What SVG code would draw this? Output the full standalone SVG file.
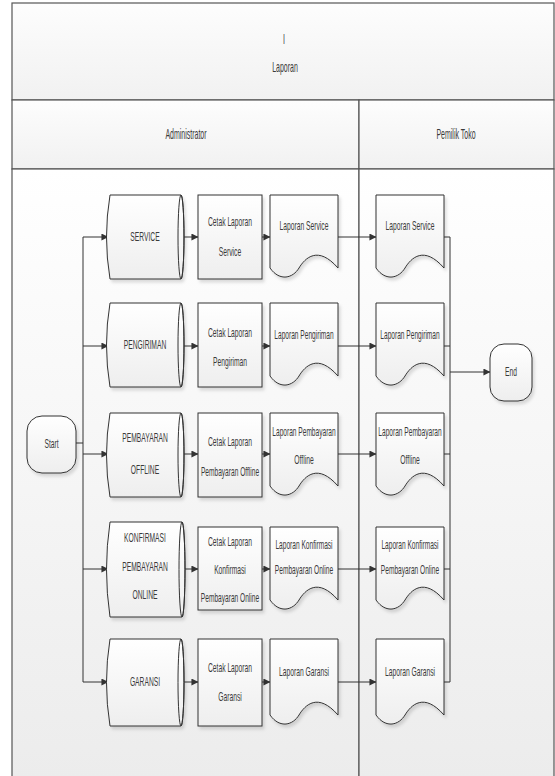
<svg xmlns="http://www.w3.org/2000/svg" width="555" height="776" viewBox="0 0 555 776">
<defs>
<linearGradient id="gBand" x1="0" y1="0" x2="0" y2="1"><stop offset="0" stop-color="#fdfdfd"/><stop offset="1" stop-color="#f1f1f1"/></linearGradient>
<linearGradient id="gBody" x1="0" y1="0" x2="0" y2="1"><stop offset="0" stop-color="#ffffff"/><stop offset="1" stop-color="#ececec"/></linearGradient>
<linearGradient id="gShape" x1="0" y1="0" x2="0" y2="1"><stop offset="0" stop-color="#ffffff"/><stop offset="1" stop-color="#eeeeee"/></linearGradient>
<filter id="sh" x="-20%" y="-20%" width="140%" height="140%"><feDropShadow dx="2" dy="3" stdDeviation="1.5" flood-color="#000" flood-opacity="0.13"/></filter>
<marker id="arr" viewBox="0 0 8 8" refX="7.5" refY="4" markerWidth="7" markerHeight="7" markerUnits="userSpaceOnUse" orient="auto"><path d="M0,0 L8,4 L0,8 Z" fill="#333"/></marker>
</defs>
<style>
.lane{stroke:#555;stroke-width:1.2}
.s{fill:url(#gShape);stroke:#333;stroke-width:1;filter:url(#sh)}
.c{fill:none;stroke:#333;stroke-width:1}
.a{marker-end:url(#arr)}
text{font-family:"Liberation Sans",Arial,sans-serif;font-size:12px;fill:#3a3a3a;text-anchor:middle}
.h{font-size:14px}
</style>
<g id="pool">
<rect x="12" y="3" width="542" height="97" fill="url(#gBand)" class="lane"/>
<rect x="12" y="100" width="347" height="69" fill="url(#gBand)" class="lane"/>
<rect x="359" y="100" width="195" height="69" fill="url(#gBand)" class="lane"/>
<rect x="12" y="169" width="347" height="610" fill="url(#gBody)" class="lane"/>
<rect x="359" y="169" width="195" height="610" fill="url(#gBody)" class="lane"/>
<text class="h" transform="translate(284,44) scale(0.5,1)">I</text>
<text class="h" transform="translate(285,72) scale(0.5,1)">Laporan</text>
<text class="h" transform="translate(186,139) scale(0.5,1)">Administrator</text>
<text class="h" transform="translate(456,139) scale(0.5,1)">Pemilik Toko</text>
</g>
<g id="connectors">
<path class="c" d="M76,443 H83"/>
<path class="c" d="M83,237 V682"/>
<path class="c a" d="M83,237 H108"/>
<path class="c a" d="M83,346 H108"/>
<path class="c a" d="M83,454 H108"/>
<path class="c a" d="M83,569 H108"/>
<path class="c a" d="M83,682 H108"/>
<path class="c a" d="M184,237 H198"/>
<path class="c a" d="M184,346 H198"/>
<path class="c a" d="M184,454 H198"/>
<path class="c a" d="M184,569 H198"/>
<path class="c a" d="M184,682 H198"/>
<path class="c a" d="M262,237 H270"/>
<path class="c a" d="M262,346 H270"/>
<path class="c a" d="M262,454 H270"/>
<path class="c a" d="M262,569 H270"/>
<path class="c a" d="M262,682 H270"/>
<path class="c a" d="M338,237 H376"/>
<path class="c a" d="M338,346 H376"/>
<path class="c a" d="M338,454 H376"/>
<path class="c a" d="M338,569 H376"/>
<path class="c a" d="M338,682 H376"/>
<path class="c" d="M444,237 H450 M444,346 H450 M444,454 H450 M444,569 H450 M444,682 H450 M450,237 V682"/>
<path class="c a" d="M450,372 H490"/>
</g>
<g id="start">
<rect class="s" x="27" y="416" width="49" height="57" rx="15"/>
<text transform="translate(51.5,448) scale(0.56,1)">Start</text>
</g>
<g id="end">
<rect class="s" x="490" y="344" width="42" height="57" rx="14"/>
<text transform="translate(511,376) scale(0.56,1)">End</text>
</g>
<g id="data-service">
<path class="s" d="M110,195 H181 A3,42 0 0 1 181,279 H110 Q103,237 110,195 Z"/>
<ellipse cx="181" cy="237" rx="3" ry="42" fill="none" stroke="#333"/>
<text transform="translate(145,241) scale(0.56,1)">SERVICE</text>
</g>
<g id="cetak-service">
<rect class="s" x="198" y="195" width="64" height="84"/>
<text transform="translate(230,226) scale(0.56,1)">Cetak Laporan</text>
<text transform="translate(230,256) scale(0.56,1)">Service</text>
</g>
<g id="doc-service-admin">
<path class="s" d="M270,195 H338 V268 C318,245 305,258 299,268 C293,278 280,282 270,268 Z"/>
<text transform="translate(304,230) scale(0.56,1)">Laporan Service</text>
</g>
<g id="doc-service-owner">
<path class="s" d="M376,195 H444 V268 C424,245 411,258 405,268 C399,278 386,282 376,268 Z"/>
<text transform="translate(410,230) scale(0.56,1)">Laporan Service</text>
</g>
<g id="data-pengiriman">
<path class="s" d="M110,303 H181 A3,42 0 0 1 181,387 H110 Q103,345 110,303 Z"/>
<ellipse cx="181" cy="345" rx="3" ry="42" fill="none" stroke="#333"/>
<text transform="translate(145,349) scale(0.56,1)">PENGIRIMAN</text>
</g>
<g id="cetak-pengiriman">
<rect class="s" x="198" y="303" width="64" height="84"/>
<text transform="translate(230,337) scale(0.56,1)">Cetak Laporan</text>
<text transform="translate(230,366) scale(0.56,1)">Pengiriman</text>
</g>
<g id="doc-pengiriman-admin">
<path class="s" d="M270,303 H338 V376 C318,353 305,366 299,376 C293,386 280,390 270,376 Z"/>
<text transform="translate(304,339) scale(0.55,1)">Laporan Pengiriman</text>
</g>
<g id="doc-pengiriman-owner">
<path class="s" d="M376,303 H444 V376 C424,353 411,366 405,376 C399,386 386,390 376,376 Z"/>
<text transform="translate(410,339) scale(0.55,1)">Laporan Pengiriman</text>
</g>
<g id="data-offline">
<path class="s" d="M110,413 H181 A3,42 0 0 1 181,497 H110 Q103,455 110,413 Z"/>
<ellipse cx="181" cy="455" rx="3" ry="42" fill="none" stroke="#333"/>
<text transform="translate(145,442) scale(0.56,1)">PEMBAYARAN</text>
<text transform="translate(145,474) scale(0.56,1)">OFFLINE</text>
</g>
<g id="cetak-offline">
<rect class="s" x="198" y="413" width="64" height="84"/>
<text transform="translate(230,446) scale(0.56,1)">Cetak Laporan</text>
<text transform="translate(230,476) scale(0.55,1)">Pembayaran Offline</text>
</g>
<g id="doc-offline-admin">
<path class="s" d="M270,413 H338 V486 C318,463 305,476 299,486 C293,496 280,500 270,486 Z"/>
<text transform="translate(304,436) scale(0.55,1)">Laporan Pembayaran</text>
<text transform="translate(304,464) scale(0.56,1)">Offline</text>
</g>
<g id="doc-offline-owner">
<path class="s" d="M376,413 H444 V486 C424,463 411,476 405,486 C399,496 386,500 376,486 Z"/>
<text transform="translate(410,436) scale(0.55,1)">Laporan Pembayaran</text>
<text transform="translate(410,464) scale(0.56,1)">Offline</text>
</g>
<g id="data-online">
<path class="s" d="M110,522 H182 A3,47.5 0 0 1 182,617 H110 Q103,569.5 110,522 Z"/>
<ellipse cx="182" cy="569.5" rx="3" ry="47.5" fill="none" stroke="#333"/>
<text transform="translate(145,542) scale(0.56,1)">KONFIRMASI</text>
<text transform="translate(145,571) scale(0.56,1)">PEMBAYARAN</text>
<text transform="translate(145,599) scale(0.56,1)">ONLINE</text>
</g>
<g id="cetak-online">
<rect class="s" x="198" y="527" width="64" height="83"/>
<text transform="translate(230,546) scale(0.56,1)">Cetak Laporan</text>
<text transform="translate(230,574) scale(0.56,1)">Konfirmasi</text>
<text transform="translate(230,602) scale(0.55,1)">Pembayaran Online</text>
</g>
<g id="doc-online-admin">
<path class="s" d="M270,527 H338 V600 C318,577 305,590 299,600 C293,610 280,614 270,600 Z"/>
<text transform="translate(304,549) scale(0.55,1)">Laporan Konfirmasi</text>
<text transform="translate(304,574) scale(0.55,1)">Pembayaran Online</text>
</g>
<g id="doc-online-owner">
<path class="s" d="M376,527 H444 V600 C424,577 411,590 405,600 C399,610 386,614 376,600 Z"/>
<text transform="translate(410,549) scale(0.55,1)">Laporan Konfirmasi</text>
<text transform="translate(410,574) scale(0.55,1)">Pembayaran Online</text>
</g>
<g id="data-garansi">
<path class="s" d="M110,639 H181 A3,43.5 0 0 1 181,726 H110 Q103,682.5 110,639 Z"/>
<ellipse cx="181" cy="682.5" rx="3" ry="43.5" fill="none" stroke="#333"/>
<text transform="translate(145,686) scale(0.56,1)">GARANSI</text>
</g>
<g id="cetak-garansi">
<rect class="s" x="198" y="639" width="64" height="87"/>
<text transform="translate(230,672) scale(0.56,1)">Cetak Laporan</text>
<text transform="translate(230,701) scale(0.56,1)">Garansi</text>
</g>
<g id="doc-garansi-admin">
<path class="s" d="M270,639 H338 V715 C318,692 305,705 299,715 C293,725 280,729 270,715 Z"/>
<text transform="translate(304,676) scale(0.56,1)">Laporan Garansi</text>
</g>
<g id="doc-garansi-owner">
<path class="s" d="M376,639 H444 V715 C424,692 411,705 405,715 C399,725 386,729 376,715 Z"/>
<text transform="translate(410,676) scale(0.56,1)">Laporan Garansi</text>
</g>
</svg>
